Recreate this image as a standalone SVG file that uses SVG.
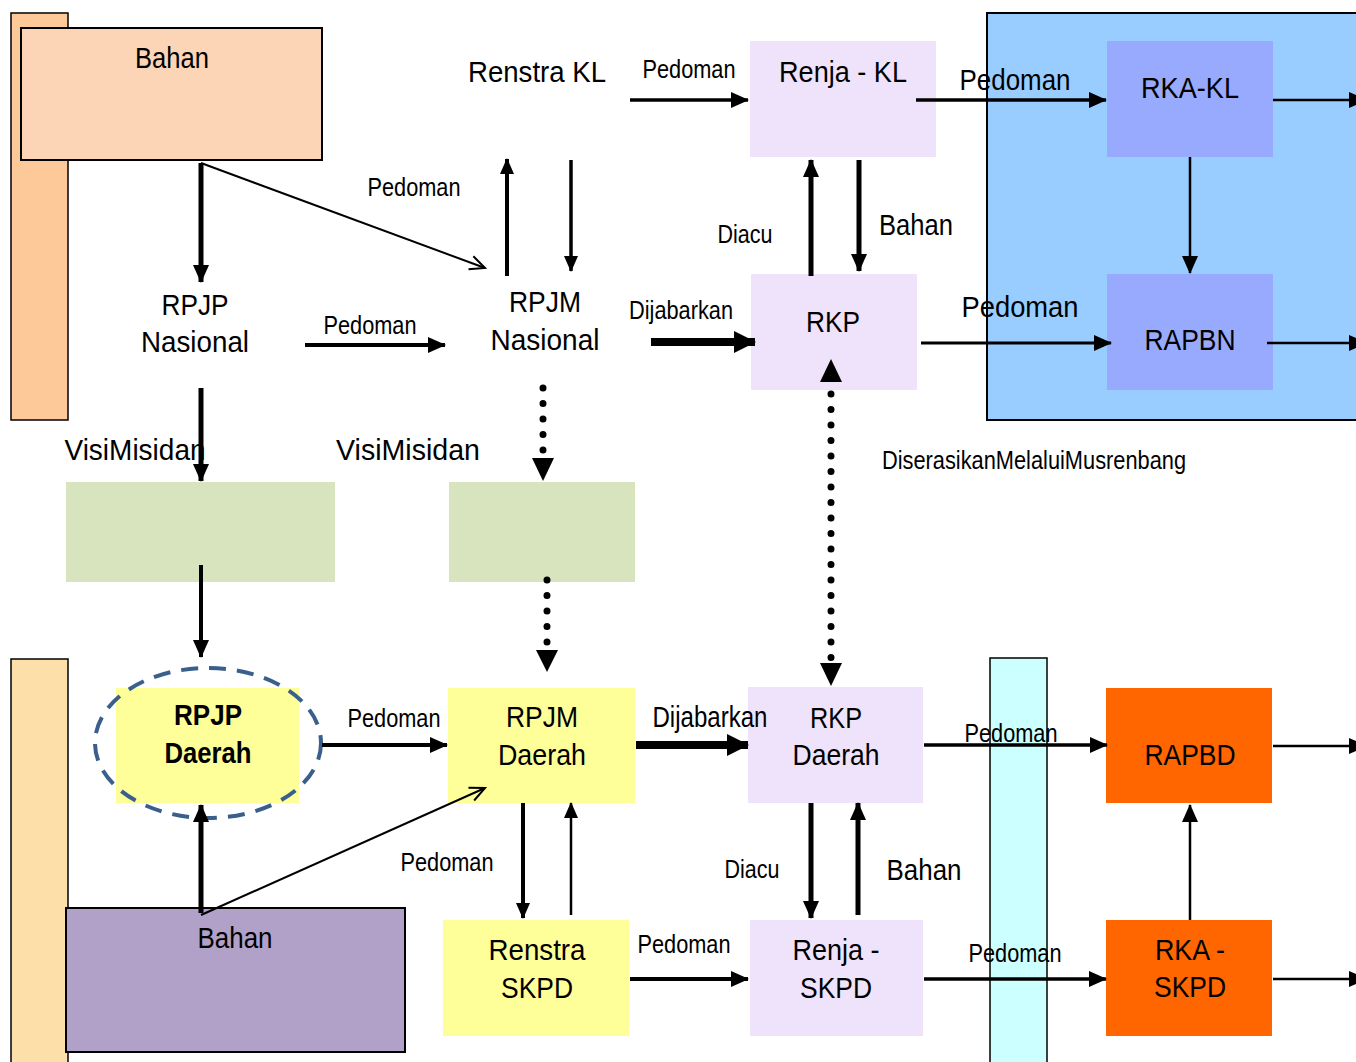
<svg xmlns="http://www.w3.org/2000/svg" width="1356" height="1062" viewBox="0 0 1356 1062">
<style>
text{font-family:"Liberation Sans",Arial,sans-serif;fill:#000;text-anchor:middle}
.big{font-size:30px}
.sm{font-size:25px}
.bold{font-weight:bold}
.ln{fill:none;stroke:#000}
.dot{fill:none;stroke:#000;stroke-width:7;stroke-linecap:round;stroke-dasharray:0 15.5}
.lav{fill:#EFE3FB}
.yel{fill:#FFFF99}
.org{fill:#FF6600}
.rka{fill:#98AAFD}
.grn{fill:#D7E4BD}
</style>
<defs>
<marker id="a" markerUnits="userSpaceOnUse" markerWidth="18" markerHeight="16" refX="17" refY="8" orient="auto"><path d="M0,0 L18,8 L0,16 z" fill="#000"/></marker>
<marker id="ab" markerUnits="userSpaceOnUse" markerWidth="22" markerHeight="22" refX="21" refY="11" orient="auto"><path d="M0,0 L22,11 L0,22 z" fill="#000"/></marker>
<marker id="as" markerUnits="userSpaceOnUse" markerWidth="16" markerHeight="14" refX="15" refY="7" orient="auto"><path d="M0,0 L16,7 L0,14 z" fill="#000"/></marker>
<marker id="v" markerUnits="userSpaceOnUse" markerWidth="18" markerHeight="18" refX="16" refY="9" orient="auto"><path d="M1,2 L16,9 L1,16" fill="none" stroke="#000" stroke-width="2"/></marker>
</defs>

<!-- background bars -->
<g id="bar-top-left"><rect x="11" y="13" width="57" height="407" fill="#FDC998" stroke="#000" stroke-width="1.5"/></g>
<g id="bar-bottom-left"><rect x="11" y="659" width="57" height="410" fill="#FDDFA9" stroke="#000" stroke-width="1.5"/></g>
<g id="blue-area"><rect x="987" y="13" width="380" height="407" fill="#99CCFF" stroke="#000" stroke-width="2"/></g>
<g id="cyan-bar"><rect x="990" y="658" width="57" height="410" fill="#CCFFFF" stroke="#000" stroke-width="1.5"/></g>

<!-- nodes -->
<g id="bahan-top"><rect x="21" y="28" width="301" height="132" fill="#FBD5B5" stroke="#000" stroke-width="2"/><text class="big" x="172" y="68" textLength="74" lengthAdjust="spacingAndGlyphs">Bahan</text></g>
<g id="renstra-kl"><text class="big" x="537" y="82" textLength="138" lengthAdjust="spacingAndGlyphs">Renstra KL</text></g>
<g id="renja-kl"><rect class="lav" x="750" y="41" width="186" height="116"/><text class="big" x="843" y="82" textLength="128" lengthAdjust="spacingAndGlyphs">Renja - KL</text></g>
<g id="rka-kl"><rect class="rka" x="1107" y="41" width="166" height="116"/><text class="big" x="1190" y="98" textLength="98" lengthAdjust="spacingAndGlyphs">RKA-KL</text></g>
<g id="rpjp-nasional"><text class="big" x="195" y="315" textLength="67" lengthAdjust="spacingAndGlyphs">RPJP</text><text class="big" x="195" y="352" textLength="108" lengthAdjust="spacingAndGlyphs">Nasional</text></g>
<g id="rpjm-nasional"><text class="big" x="545" y="312" textLength="72" lengthAdjust="spacingAndGlyphs">RPJM</text><text class="big" x="545" y="350" textLength="109" lengthAdjust="spacingAndGlyphs">Nasional</text></g>
<g id="rkp"><rect class="lav" x="751" y="274" width="166" height="116"/><text class="big" x="833" y="332" textLength="54" lengthAdjust="spacingAndGlyphs">RKP</text></g>
<g id="rapbn"><rect class="rka" x="1107" y="274" width="166" height="116"/><text class="big" x="1190" y="350" textLength="91" lengthAdjust="spacingAndGlyphs">RAPBN</text></g>
<g id="visi-left"><rect class="grn" x="66" y="482" width="269" height="100"/></g>
<g id="visi-right"><rect class="grn" x="449" y="482" width="186" height="100"/></g>
<g id="rpjp-daerah"><rect class="yel" x="116" y="688" width="183" height="115"/><ellipse cx="208" cy="743" rx="113" ry="75" fill="none" stroke="#3A5F8D" stroke-width="4" stroke-dasharray="17 11"/><text class="big bold" x="208" y="725" textLength="68" lengthAdjust="spacingAndGlyphs">RPJP</text><text class="big bold" x="208" y="763" textLength="87" lengthAdjust="spacingAndGlyphs">Daerah</text></g>
<g id="rpjm-daerah"><rect class="yel" x="448" y="688" width="187" height="115"/><text class="big" x="542" y="727" textLength="72" lengthAdjust="spacingAndGlyphs">RPJM</text><text class="big" x="542" y="765" textLength="88" lengthAdjust="spacingAndGlyphs">Daerah</text></g>
<g id="rkp-daerah"><rect class="lav" x="748" y="687" width="175" height="116"/><text class="big" x="836" y="728" textLength="52" lengthAdjust="spacingAndGlyphs">RKP</text><text class="big" x="836" y="765" textLength="87" lengthAdjust="spacingAndGlyphs">Daerah</text></g>
<g id="rapbd"><rect class="org" x="1106" y="688" width="166" height="115"/><text class="big" x="1190" y="765" textLength="91" lengthAdjust="spacingAndGlyphs">RAPBD</text></g>
<g id="bahan-bottom"><rect x="66" y="908" width="339" height="144" fill="#B1A0C7" stroke="#000" stroke-width="2"/><text class="big" x="235" y="948" textLength="75" lengthAdjust="spacingAndGlyphs">Bahan</text></g>
<g id="renstra-skpd"><rect class="yel" x="443" y="920" width="186" height="116"/><text class="big" x="537" y="960" textLength="97" lengthAdjust="spacingAndGlyphs">Renstra</text><text class="big" x="537" y="998" textLength="72" lengthAdjust="spacingAndGlyphs">SKPD</text></g>
<g id="renja-skpd"><rect class="lav" x="750" y="920" width="173" height="116"/><text class="big" x="836" y="960" textLength="87" lengthAdjust="spacingAndGlyphs">Renja -</text><text class="big" x="836" y="998" textLength="72" lengthAdjust="spacingAndGlyphs">SKPD</text></g>
<g id="rka-skpd"><rect class="org" x="1106" y="920" width="166" height="116"/><text class="big" x="1190" y="960" textLength="70" lengthAdjust="spacingAndGlyphs">RKA -</text><text class="big" x="1190" y="997" textLength="72" lengthAdjust="spacingAndGlyphs">SKPD</text></g>

<!-- connectors -->
<g id="connectors">
<line class="ln" x1="630" y1="100" x2="748" y2="100" stroke-width="3.5" marker-end="url(#a)"/>
<line class="ln" x1="916" y1="100" x2="1106" y2="100" stroke-width="3.5" marker-end="url(#a)"/>
<line class="ln" x1="1273" y1="100" x2="1366" y2="100" stroke-width="2.5" marker-end="url(#a)"/>
<line class="ln" x1="1190" y1="157" x2="1190" y2="273" stroke-width="2.5" marker-end="url(#a)"/>
<line class="ln" x1="921" y1="343" x2="1111" y2="343" stroke-width="3" marker-end="url(#a)"/>
<line class="ln" x1="1267" y1="343" x2="1366" y2="343" stroke-width="2.5" marker-end="url(#a)"/>
<line class="ln" x1="811" y1="276" x2="811" y2="160" stroke-width="5" marker-end="url(#a)"/>
<line class="ln" x1="859" y1="160" x2="859" y2="271" stroke-width="5" marker-end="url(#a)"/>
<line class="ln" x1="507" y1="276" x2="507" y2="159" stroke-width="4" marker-end="url(#as)"/>
<line class="ln" x1="571" y1="160" x2="571" y2="271" stroke-width="3.5" marker-end="url(#as)"/>
<line class="ln" x1="201" y1="163" x2="201" y2="282" stroke-width="5" marker-end="url(#a)"/>
<line class="ln" x1="201" y1="163" x2="485" y2="268" stroke-width="2" marker-end="url(#v)"/>
<line class="ln" x1="305" y1="345" x2="445" y2="345" stroke-width="4" marker-end="url(#a)"/>
<line class="ln" x1="651" y1="342" x2="755" y2="342" stroke-width="8" marker-end="url(#ab)"/>
<line class="ln" x1="201" y1="388" x2="201" y2="481" stroke-width="5" marker-end="url(#a)"/>
<line class="dot" x1="543" y1="388" x2="543" y2="452"/>
<path d="M532,458 L554,458 L543,481 z" fill="#000"/>
<line class="dot" x1="547" y1="580" x2="547" y2="645"/>
<path d="M536,650 L558,650 L547,672 z" fill="#000"/>
<line class="dot" x1="831" y1="394" x2="831" y2="660"/>
<path d="M820,382 L842,382 L831,359 z" fill="#000"/>
<path d="M820,663 L842,663 L831,686 z" fill="#000"/>
<line class="ln" x1="201" y1="565" x2="201" y2="657" stroke-width="4" marker-end="url(#a)"/>
<line class="ln" x1="201" y1="913" x2="201" y2="805" stroke-width="5" marker-end="url(#a)"/>
<line class="ln" x1="201" y1="915" x2="485" y2="788" stroke-width="2" marker-end="url(#v)"/>
<line class="ln" x1="322" y1="745" x2="447" y2="745" stroke-width="4" marker-end="url(#a)"/>
<line class="ln" x1="636" y1="745" x2="748" y2="745" stroke-width="8" marker-end="url(#ab)"/>
<line class="ln" x1="924" y1="745" x2="1107" y2="745" stroke-width="3.5" marker-end="url(#a)"/>
<line class="ln" x1="1273" y1="746" x2="1366" y2="746" stroke-width="2.5" marker-end="url(#a)"/>
<line class="ln" x1="523" y1="803" x2="523" y2="918" stroke-width="4" marker-end="url(#as)"/>
<line class="ln" x1="571" y1="915" x2="571" y2="803" stroke-width="2.5" marker-end="url(#as)"/>
<line class="ln" x1="811" y1="803" x2="811" y2="918" stroke-width="5" marker-end="url(#a)"/>
<line class="ln" x1="858" y1="915" x2="858" y2="803" stroke-width="5" marker-end="url(#a)"/>
<line class="ln" x1="630" y1="979" x2="748" y2="979" stroke-width="4" marker-end="url(#a)"/>
<line class="ln" x1="924" y1="979" x2="1106" y2="979" stroke-width="3.5" marker-end="url(#a)"/>
<line class="ln" x1="1190" y1="920" x2="1190" y2="805" stroke-width="2.5" marker-end="url(#a)"/>
<line class="ln" x1="1273" y1="979" x2="1366" y2="979" stroke-width="2.5" marker-end="url(#a)"/>
</g>

<!-- connector labels -->
<g id="labels">
<text class="sm" x="689" y="78" textLength="93" lengthAdjust="spacingAndGlyphs">Pedoman</text>
<text class="big" x="1015" y="90" textLength="111" lengthAdjust="spacingAndGlyphs">Pedoman</text>
<text class="sm" x="414" y="196" textLength="93" lengthAdjust="spacingAndGlyphs">Pedoman</text>
<text class="sm" x="745" y="243" textLength="55" lengthAdjust="spacingAndGlyphs">Diacu</text>
<text class="big" x="916" y="235" textLength="74" lengthAdjust="spacingAndGlyphs">Bahan</text>
<text class="sm" x="370" y="334" textLength="93" lengthAdjust="spacingAndGlyphs">Pedoman</text>
<text class="sm" x="681" y="319" textLength="104" lengthAdjust="spacingAndGlyphs">Dijabarkan</text>
<text class="big" x="1020" y="317" textLength="117" lengthAdjust="spacingAndGlyphs">Pedoman</text>
<text class="big" x="135" y="460" textLength="141" lengthAdjust="spacingAndGlyphs">VisiMisidan</text>
<text class="big" x="408" y="460" textLength="144" lengthAdjust="spacingAndGlyphs">VisiMisidan</text>
<text class="sm" x="1034" y="469" textLength="304" lengthAdjust="spacingAndGlyphs">DiserasikanMelaluiMusrenbang</text>
<text class="sm" x="394" y="727" textLength="93" lengthAdjust="spacingAndGlyphs">Pedoman</text>
<text class="big" x="710" y="727" textLength="115" lengthAdjust="spacingAndGlyphs">Dijabarkan</text>
<text class="sm" x="1011" y="742" textLength="93" lengthAdjust="spacingAndGlyphs">Pedoman</text>
<text class="sm" x="447" y="871" textLength="93" lengthAdjust="spacingAndGlyphs">Pedoman</text>
<text class="sm" x="752" y="878" textLength="55" lengthAdjust="spacingAndGlyphs">Diacu</text>
<text class="big" x="924" y="880" textLength="75" lengthAdjust="spacingAndGlyphs">Bahan</text>
<text class="sm" x="684" y="953" textLength="93" lengthAdjust="spacingAndGlyphs">Pedoman</text>
<text class="sm" x="1015" y="962" textLength="93" lengthAdjust="spacingAndGlyphs">Pedoman</text>
</g>
</svg>
